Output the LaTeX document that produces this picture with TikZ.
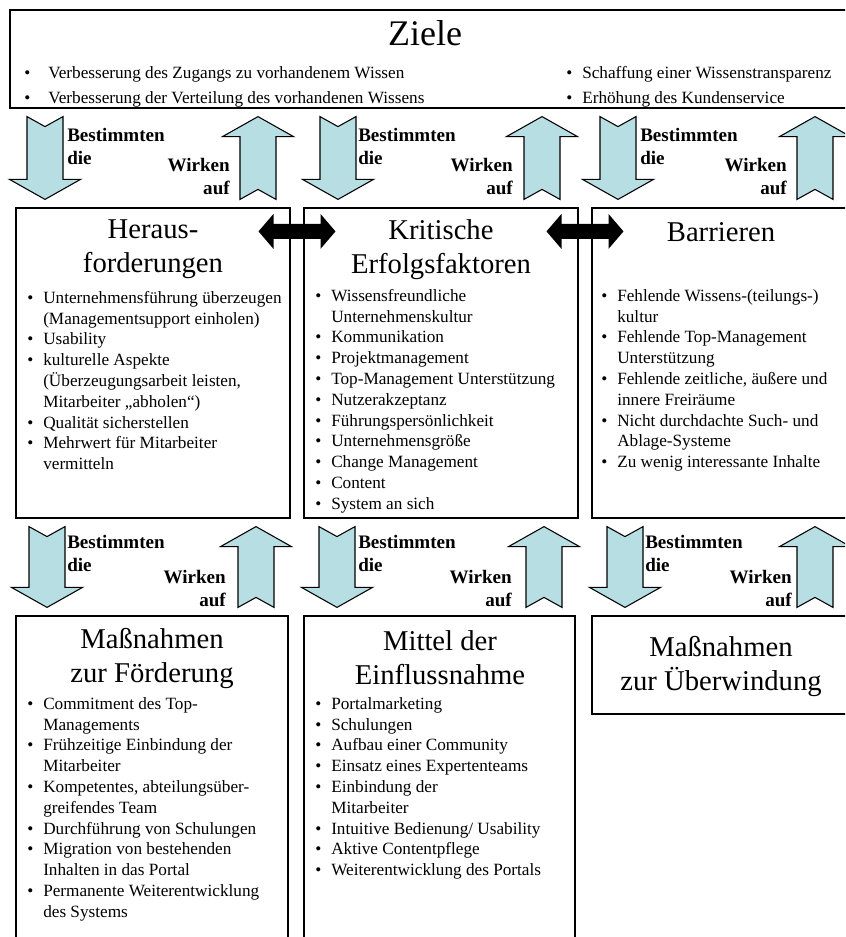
\documentclass[tikz,border=0pt]{standalone}
\usepackage{fontspec}
\setmainfont{Liberation Serif}
\usetikzlibrary{calc,fit}

\definecolor{pfeilblau}{RGB}{183,222,227}

\newcommand{\bul}[1][12pt]{\makebox[#1][l]{\textbullet}}
\newcommand{\ein}{\hspace*{12pt}}

% broad arrows between two boxes: x, upper node, lower node
\newcommand{\pfeilrunter}[3]{%
  \path (#1,0 |- #2.south) coordinate (po) (#1,0 |- #3.north) coordinate (pu);
  \draw[blockpfeil] ($(po)+(-18,8)$) -- ($(po)+(0,18)$) -- ($(po)+(18,8)$)
    -- ($(pu)+(18,-28)$) -- ($(pu)+(35.5,-28)$) -- ($(pu)+(0,-8)$)
    -- ($(pu)+(-35.5,-28)$) -- ($(pu)+(-18,-28)$) -- cycle;}
\newcommand{\pfeilhoch}[3]{%
  \path (#1,0 |- #2.south) coordinate (po) (#1,0 |- #3.north) coordinate (pu);
  \draw[blockpfeil] ($(po)+(0,8)$) -- ($(po)+(35.5,28)$) -- ($(po)+(18,28)$)
    -- ($(pu)+(18,-8)$) -- ($(pu)+(0,-18)$) -- ($(pu)+(-18,-8)$)
    -- ($(po)+(-18,28)$) -- ($(po)+(-35.5,28)$) -- cycle;}
% black double arrow across the gap of two boxes
\newcommand{\doppelpfeil}[2]{%
  \path ($(#1.north east)!0.5!(#2.north west)$) ++(0,24) coordinate (pm);
  \fill ($(pm)+(-38.5,0)$) -- ++(15,-17.5) -- ++(0,10) -- ($(pm)+(23.5,-7.5)$)
    -- ++(0,-10) -- ($(pm)+(38.5,0)$) -- ++(-15,17.5) -- ++(0,-10)
    -- ($(pm)+(-23.5,7.5)$) -- ++(0,10) -- cycle;}

\begin{document}
\begin{tikzpicture}[x=0.75pt, y=-0.75pt,
    kasten/.style={draw, line width=0.9pt, inner sep=0pt},
    blockpfeil/.style={draw, fill=pfeilblau, line width=0.8pt, line join=miter},
    titel/.style={font=\fontsize{21.5}{25.5}\selectfont, align=center, inner sep=0pt},
    liste/.style={font=\fontsize{12.9}{15.6}\selectfont, align=left, anchor=north west, inner sep=0pt},
    links/.style={font=\bfseries\fontsize{14.3}{17.25}\selectfont, align=left, anchor=north west, inner sep=0pt},
    rechts/.style={font=\bfseries\fontsize{14.3}{17.25}\selectfont, align=right, anchor=north east, inner sep=0pt}]
	\useasboundingbox (0,0) rectangle (845,937);
	\clip (0,0) rectangle (845,937);

	% boxes
	\node[kasten, fit={(10,10) (850,108)}] (ziele) {};
	\node[kasten, fit={(16,208) (290,518)}] (heraus) {};
	\node[kasten, fit={(304,208) (578,518)}] (kritisch) {};
	\node[kasten, fit={(592,208) (850,518)}] (barrieren) {};
	\node[kasten, fit={(16,616) (288,960)}] (foerderung) {};
	\node[kasten, fit={(304,616) (575,960)}] (einfluss) {};
	\node[kasten, fit={(592,616) (850,714)}] (ueberwindung) {};

	% Ziele
	\node[titel, font=\fontsize{27}{32}\selectfont] (zieleT) at (425,33) {Ziele};
	\node[liste, font=\fontsize{12.9}{18.75}\selectfont] (zieleL) at (24,66)
		{\bul[18pt]Verbesserung des Zugangs zu vorhandenem Wissen\\
		 \bul[18pt]Verbesserung der Verteilung des vorhandenen Wissens};
	\node[liste, font=\fontsize{12.9}{18.75}\selectfont] (zieleR) at (566,66)
		{\bul Schaffung einer Wissenstransparenz\\
		 \bul Erhöhung des Kundenservice};

	% arrows, first row
	\pfeilrunter{45}{ziele}{heraus}
	\pfeilhoch{258}{ziele}{heraus}
	\pfeilrunter{338}{ziele}{kritisch}
	\pfeilhoch{542}{ziele}{kritisch}
	\pfeilrunter{618}{ziele}{barrieren}
	\pfeilhoch{815}{ziele}{barrieren}
	\node[links] (b1) at (67,128) {Bestimmten\\die};
	\node[links] (b2) at (358,128) {Bestimmten\\die};
	\node[links] (b3) at (640,128) {Bestimmten\\die};
	\node[rechts] (w1) at (230,158) {Wirken\\auf};
	\node[rechts] (w2) at (513,158) {Wirken\\auf};
	\node[rechts] (w3) at (787,158) {Wirken\\auf};

	% middle row
	\node[titel] (herausT) at (153,249) {Heraus-\\forderungen};
	\node[titel] (kritischT) at (441,250) {Kritische\\Erfolgsfaktoren};
	\node[titel] (barrierenT) at (721,232) {Barrieren};
	\doppelpfeil{heraus}{kritisch}
	\doppelpfeil{kritisch}{barrieren}

	\node[liste] (herausL) at (27,291)
		{\bul Unternehmensführung überzeugen\\
		 \ein(Managementsupport einholen)\\
		 \bul Usability\\
		 \bul kulturelle Aspekte\\
		 \ein(Überzeugungsarbeit leisten,\\
		 \ein Mitarbeiter „abholen“)\\
		 \bul Qualität sicherstellen\\
		 \bul Mehrwert für Mitarbeiter\\
		 \ein vermitteln};
	\node[liste] (kritischL) at (315,289)
		{\bul Wissensfreundliche\\
		 \ein Unternehmenskultur\\
		 \bul Kommunikation\\
		 \bul Projektmanagement\\
		 \bul Top-Management Unterstützung\\
		 \bul Nutzerakzeptanz\\
		 \bul Führungspersönlichkeit\\
		 \bul Unternehmensgröße\\
		 \bul Change Management\\
		 \bul Content\\
		 \bul System an sich};
	\node[liste] (barrierenL) at (601,289)
		{\bul Fehlende Wissens-(teilungs-)\\
		 \ein kultur\\
		 \bul Fehlende Top-Management\\
		 \ein Unterstützung\\
		 \bul Fehlende zeitliche, äußere und\\
		 \ein innere Freiräume\\
		 \bul Nicht durchdachte Such- und\\
		 \ein Ablage-Systeme\\
		 \bul Zu wenig interessante Inhalte};

	% arrows, second row
	\pfeilrunter{47}{heraus}{foerderung}
	\pfeilhoch{256}{heraus}{foerderung}
	\pfeilrunter{337}{kritisch}{einfluss}
	\pfeilhoch{544}{kritisch}{einfluss}
	\pfeilrunter{625}{barrieren}{ueberwindung}
	\pfeilhoch{815}{barrieren}{ueberwindung}
	\node[links] (b4) at (67,535) {Bestimmten\\die};
	\node[links] (b5) at (358,535) {Bestimmten\\die};
	\node[links] (b6) at (645,535) {Bestimmten\\die};
	\node[rechts] (w4) at (226,570) {Wirken\\auf};
	\node[rechts] (w5) at (512,570) {Wirken\\auf};
	\node[rechts] (w6) at (792,570) {Wirken\\auf};

	% bottom row
	\node[titel] (foerderungT) at (152,658) {Maßnahmen\\zur Förderung};
	\node[titel] (einflussT) at (440,658) {Mittel der\\Einflussnahme};
	\node[titel] (ueberwindungT) at (721,666) {Maßnahmen\\zur Überwindung};

	\node[liste] (foerderungL) at (27,697)
		{\bul Commitment des Top-\\
		 \ein Managements\\
		 \bul Frühzeitige Einbindung der\\
		 \ein Mitarbeiter\\
		 \bul Kompetentes, abteilungsüber-\\
		 \ein greifendes Team\\
		 \bul Durchführung von Schulungen\\
		 \bul Migration von bestehenden\\
		 \ein Inhalten in das Portal\\
		 \bul Permanente Weiterentwicklung\\
		 \ein des Systems};
	\node[liste] (einflussL) at (315,697)
		{\bul Portalmarketing\\
		 \bul Schulungen\\
		 \bul Aufbau einer Community\\
		 \bul Einsatz eines Expertenteams\\
		 \bul Einbindung der\\
		 \ein Mitarbeiter\\
		 \bul Intuitive Bedienung/ Usability\\
		 \bul Aktive Contentpflege\\
		 \bul Weiterentwicklung des Portals};
\end{tikzpicture}
\end{document}
